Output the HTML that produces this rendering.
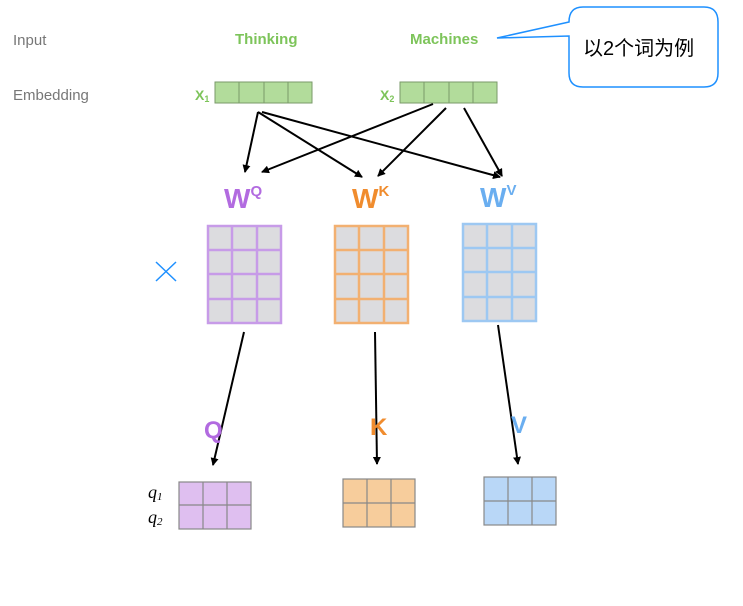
<!DOCTYPE html>
<html><head><style>
body{margin:0;background:#fff;width:743px;height:601px;overflow:hidden;font-family:"Liberation Sans","Noto Sans CJK SC",sans-serif}
</style></head><body>
<svg width="743" height="601" xmlns="http://www.w3.org/2000/svg">
<defs>
<marker id="a" markerWidth="8" markerHeight="8" refX="7" refY="4" orient="auto" markerUnits="userSpaceOnUse"><path d="M0,0 L8,4 L0,8 z" fill="#000"/></marker>
</defs>
<text x="13" y="45" font-size="15" fill="#777">Input</text>
<text x="13" y="100" font-size="15" fill="#777">Embedding</text>
<text x="235" y="44" font-size="15" font-weight="bold" fill="#7dc45a">Thinking</text>
<text x="410" y="44" font-size="15" font-weight="bold" fill="#7dc45a">Machines</text>
<text x="195" y="100" font-size="14" font-weight="bold" fill="#7dc45a">X<tspan font-size="9" dy="2">1</tspan></text>
<text x="380" y="100" font-size="14" font-weight="bold" fill="#7dc45a">X<tspan font-size="9" dy="2">2</tspan></text>
<g stroke="#7a9a6a" fill="#b2dc9b" stroke-width="1">
<rect x="215" y="82" width="97" height="21"/><line x1="239" y1="82" x2="239" y2="103"/><line x1="264" y1="82" x2="264" y2="103"/><line x1="288" y1="82" x2="288" y2="103"/>
<rect x="400" y="82" width="97" height="21"/><line x1="424" y1="82" x2="424" y2="103"/><line x1="449" y1="82" x2="449" y2="103"/><line x1="473" y1="82" x2="473" y2="103"/>
</g>
<path d="M583,7 L704,7 Q718,7 718,22 L718,73 Q718,87 704,87 L583,87 Q569,87 569,73 L569,36 L497,38 L569,22 Q569,7 583,7 Z" fill="#fff" stroke="#1e90ff" stroke-width="1.5"/>
<text x="583" y="55" font-size="20" fill="#000">以2个词为例</text>
<g stroke="#000" stroke-width="2" marker-end="url(#a)">
<line x1="258" y1="112" x2="245" y2="172"/>
<line x1="258" y1="112" x2="362" y2="177"/>
<line x1="262" y1="112" x2="500" y2="177"/>
<line x1="433" y1="104" x2="262" y2="172"/>
<line x1="446" y1="108" x2="378" y2="176"/>
<line x1="464" y1="108" x2="502" y2="176"/>
<line x1="244" y1="332" x2="213" y2="465"/>
<line x1="375" y1="332" x2="377" y2="464"/>
<line x1="498" y1="325" x2="518" y2="464"/>
</g>
<text x="224" y="208" font-size="28" font-weight="bold" fill="#b26be0">W<tspan font-size="15" dy="-12">Q</tspan></text>
<text x="352" y="208" font-size="28" font-weight="bold" fill="#f08c2e">W<tspan font-size="15" dy="-12">K</tspan></text>
<text x="480" y="207" font-size="28" font-weight="bold" fill="#6aaef0">W<tspan font-size="15" dy="-12">V</tspan></text>
<path d="M156,262 L176,281 M176,262 L156,281" stroke="#1e90ff" stroke-width="1.5"/>
<g fill="#dcdcdf" stroke-width="2.5">
<g stroke="#c79be8"><rect x="208" y="226" width="73" height="97"/><path d="M232,226V323M257,226V323M208,250H281M208,274H281M208,299H281"/></g>
<g stroke="#f2b071"><rect x="335" y="226" width="73" height="97"/><path d="M359,226V323M384,226V323M335,250H408M335,274H408M335,299H408"/></g>
<g stroke="#9dc8f2"><rect x="463" y="224" width="73" height="97"/><path d="M487,224V321M512,224V321M463,248H536M463,272H536M463,297H536"/></g>
</g>
<text x="204" y="438" font-size="24" font-weight="bold" fill="#b26be0">Q</text>
<text x="370" y="435" font-size="24" font-weight="bold" fill="#f08c2e">K</text>
<text x="511" y="433" font-size="24" font-weight="bold" fill="#6aaef0">V</text>
<g stroke="#888" stroke-width="1.2">
<g fill="#dfbff0"><rect x="179" y="482" width="72" height="47"/><path d="M203,482V529M227,482V529M179,505H251"/></g>
<g fill="#f7cd9c"><rect x="343" y="479" width="72" height="48"/><path d="M367,479V527M391,479V527M343,503H415"/></g>
<g fill="#b9d7f7"><rect x="484" y="477" width="72" height="48"/><path d="M508,477V525M532,477V525M484,501H556"/></g>
</g>
<text x="148" y="498" font-size="18" font-style="italic" font-family="Liberation Serif,serif">q<tspan font-size="11" dy="2">1</tspan></text>
<text x="148" y="523" font-size="18" font-style="italic" font-family="Liberation Serif,serif">q<tspan font-size="11" dy="2">2</tspan></text>
</svg>
</body></html>
